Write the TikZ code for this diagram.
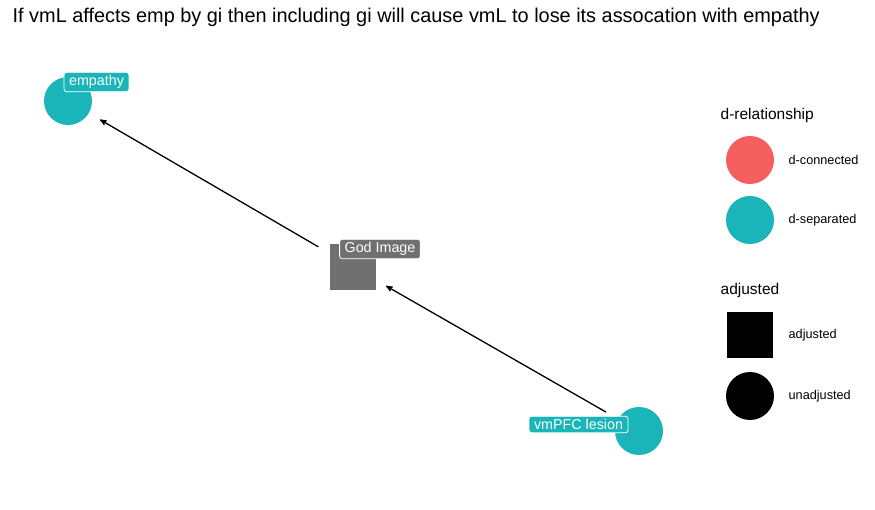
\documentclass[tikz,border=0pt]{standalone}
\usepackage{fontspec}
\setmainfont{Liberation Sans}
\usetikzlibrary{arrows,positioning,calc}
\definecolor{dsep}{HTML}{1AB5B8}
\definecolor{dcon}{HTML}{F5605E}
\definecolor{adjgrey}{HTML}{707070}

\begin{document}
\begin{tikzpicture}[x=1pt, y=-1pt, >=stealth', line width=1.3pt,
    dag/.style={circle,fill=dsep,inner sep=0pt,minimum size=48pt},
    adj/.style={rectangle,fill=adjgrey,inner sep=0pt,minimum size=46pt},
    tag/.style={rounded corners=2.5pt,draw=white,line width=0.8pt,fill=#1,text=white,
      font=\fontsize{14.3}{16}\selectfont,inner xsep=5pt,inner ysep=3pt},
    keydot/.style={circle,fill=#1,inner sep=0pt,minimum size=48pt},
    keybox/.style={rectangle,fill=black,inner sep=0pt,minimum size=46pt},
    keytext/.style={anchor=west,font=\fontsize{12.7}{14}\selectfont},
    keytitle/.style={anchor=west,font=\fontsize{15.5}{18}\selectfont}]
  \useasboundingbox (0,0) rectangle (875,510);
  \node[anchor=west,font=\fontsize{19.9}{22}\selectfont,inner sep=0pt] (title) at (12,17)
    {If vmL affects emp by gi then including gi will cause vmL to lose its assocation with empathy};
  % the dag
  \node[dag] (emp) at (68,101) {};
  \node[adj] (gi) at (353,267) {};
  \node[dag] (vml) at (639,431) {};
  \draw[->,shorten >=37pt,shorten <=40pt] (gi.center) -- (emp.center);
  \draw[->,shorten >=38pt,shorten <=38pt] (vml.center) -- (gi.center);
  \node[tag=dsep] (emplab) at (96.5,82) {empathy};
  \node[tag=adjgrey] (gilab) at (380,249) {God Image};
  \node[tag=dsep] (vmllab) at (578.5,424.5) {vmPFC lesion};
  % legend
  \node[keytitle,inner sep=0pt] (reltitle) at (720,115) {d-relationship};
  \node[keydot=dcon] (kcon) at (750,160) {};
  \node[keydot=dsep] (ksep) at (750,220) {};
  \node[keytext,inner sep=0pt] at (788,160) {d-connected};
  \node[keytext,inner sep=0pt] at (788,220) {d-separated};
  \node[keytitle,inner sep=0pt] (adjtitle) at (720,290) {adjusted};
  \node[keybox] (kadj) at (750,335) {};
  \node[keydot=black] (kunadj) at (750,396) {};
  \node[keytext,inner sep=0pt] at (788,335) {adjusted};
  \node[keytext,inner sep=0pt] at (788,396) {unadjusted};
\end{tikzpicture}
\end{document}
